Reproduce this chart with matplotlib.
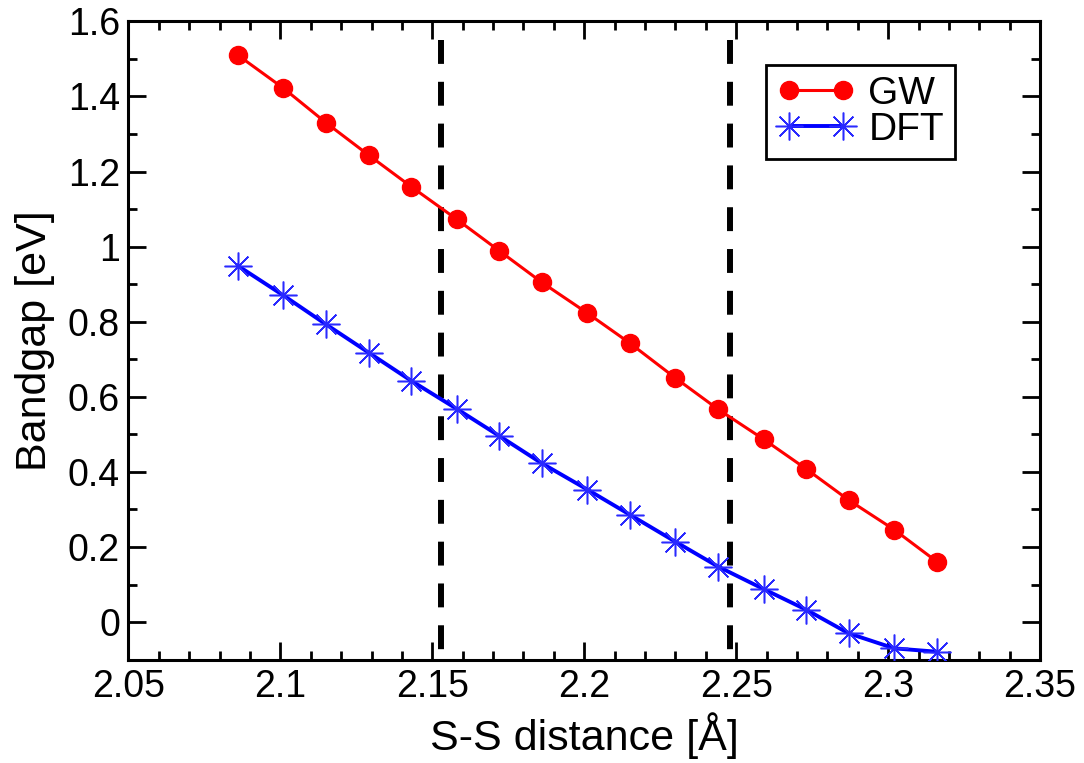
import matplotlib
matplotlib.use("Agg")
import matplotlib.pyplot as plt
from matplotlib.ticker import MultipleLocator

plt.rcParams['font.family'] = ['Liberation Sans', 'DejaVu Sans']

# S-S distance [Å]
distance = [2.086, 2.101, 2.115, 2.129, 2.143, 2.158, 2.172, 2.186, 2.201,
            2.215, 2.230, 2.244, 2.259, 2.273, 2.287, 2.302, 2.316]
# band gaps [eV]
gap_gw = [1.510, 1.422, 1.330, 1.244, 1.160, 1.073, 0.989, 0.905, 0.823,
          0.743, 0.650, 0.567, 0.487, 0.408, 0.325, 0.246, 0.161]
gap_dft = [0.949, 0.870, 0.793, 0.718, 0.643, 0.568, 0.496, 0.423, 0.353,
           0.286, 0.214, 0.148, 0.088, 0.033, -0.030, -0.070, -0.079]
# vertical marker lines
vline_x = [2.153, 2.248]
vline_y = [1.55, -0.10]

fig = plt.figure(figsize=(10.84, 7.63), dpi=100)
ax = fig.add_axes([0.1185, 0.1355, 0.8410, 0.8365])

for xv in vline_x:
    ax.plot([xv, xv], vline_y, color="black", lw=4.3, dashes=(4, 3), zorder=1)

ax.plot(distance, gap_gw, color="red", lw=2.2, marker="o", markersize=13,
        markerfacecolor="red", markeredgecolor="red", label="GW", zorder=3)
ax.plot(distance, gap_dft, color="blue", lw=2.8, marker=(8, 2, 0), markersize=20,
        markeredgewidth=1.1, markeredgecolor="#2a2aff", label="DFT", zorder=3)

ax.set_xlim(2.05, 2.35)
ax.set_ylim(-0.1, 1.6)
ax.xaxis.set_major_locator(MultipleLocator(0.05))
ax.xaxis.set_minor_locator(MultipleLocator(0.01))
ax.yaxis.set_major_locator(MultipleLocator(0.2))
ax.yaxis.set_minor_locator(MultipleLocator(0.1))
ax.xaxis.set_major_formatter(plt.FuncFormatter(lambda v, p: ("%.2f" % v).rstrip("0").rstrip(".")))
ax.yaxis.set_major_formatter(plt.FuncFormatter(lambda v, p: ("%.1f" % v).rstrip("0").rstrip(".") if abs(v) > 1e-9 else "0"))

ax.tick_params(which="both", direction="in", top=True, right=True, width=2.0,
               labelsize=27)
ax.tick_params(which="major", length=13)
ax.tick_params(which="minor", length=6.5)
ax.tick_params(axis="x", pad=7)
ax.tick_params(axis="y", pad=6)
for sp in ax.spines.values():
    sp.set_linewidth(2.2)

ax.set_xlabel("S-S distance [Å]", fontsize=31, labelpad=5)
ax.set_ylabel("Bandgap [eV]", fontsize=31, labelpad=9)

leg = ax.legend(loc="upper right", bbox_to_anchor=(0.9065, 0.932), fontsize=28,
                numpoints=2, handlelength=2.0, handletextpad=0.35,
                labelspacing=0.0, borderpad=0.28, borderaxespad=0,
                fancybox=False, framealpha=1)
leg.get_frame().set_edgecolor("black")
leg.get_frame().set_linewidth(2.0)

fig.savefig("out.png", dpi=100)
